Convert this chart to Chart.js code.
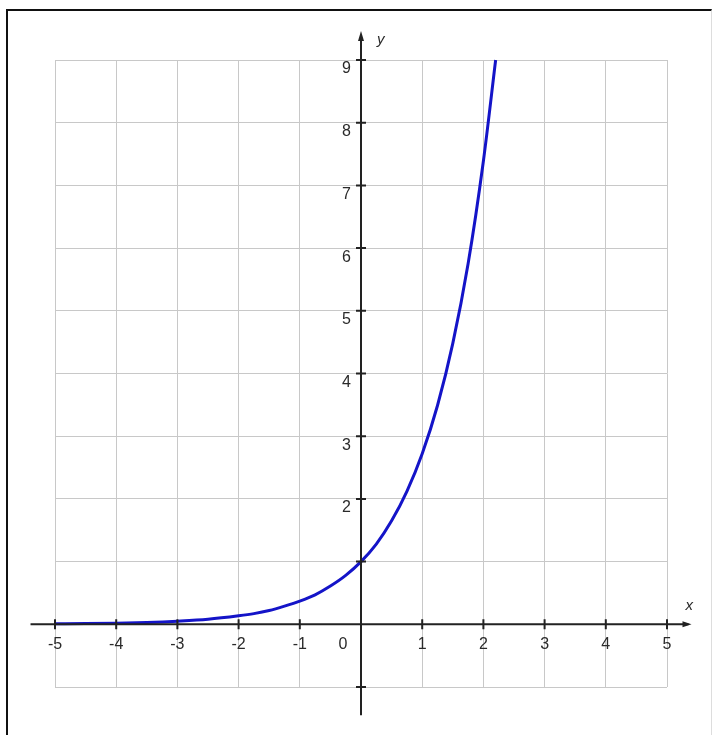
<!DOCTYPE html>
<html>
<head>
<meta charset="UTF-8">
<title>y = e^x</title>
<script src="https://cdn.jsdelivr.net/npm/chart.js@4.4.0/dist/chart.umd.min.js"></script>
<style>
  * { margin:0; padding:0; box-sizing:border-box; }
  body { background:#fff; width:712px; height:735px; overflow:hidden; }
  .frame { position:absolute; left:6px; top:9px; width:706px; height:726px; border-left:2px solid #111; border-top:2px solid #111; border-right:1px solid #ddd; }
  #wrap { position:absolute; left:0; top:0; width:712px; height:735px; }
</style>
</head>
<body>
<div class="frame"></div>
<div id="wrap"><canvas id="chart" width="712" height="735"></canvas></div>
<script>
// points
const xs = [-5, -4.5, -4, -3.5, -3, -2.5, -2, -1.75, -1.5, -1.25, -1, -0.75, -0.5, -0.25, 0, 0.25, 0.5, 0.75, 1, 1.25, 1.5, 1.75, 2, 2.2];
const ys = [0.007, 0.011, 0.018, 0.03, 0.05, 0.08, 0.135, 0.17, 0.22, 0.29, 0.37, 0.47, 0.61, 0.78, 1.0, 1.28, 1.65, 2.12, 2.72, 3.49, 4.48, 5.75, 7.39, 9.0];
const xTicks = [-5, -4, -3, -2, -1, 1, 2, 3, 4, 5];
const yTicks = [-1, 1, 2, 3, 4, 5, 6, 7, 8, 9];
const yLabels = [2, 3, 4, 5, 6, 7, 8, 9]; // "1" is hidden under the curve in the original

const font = '16px "Liberation Sans", Arial, sans-serif';

// axes with arrows, ticks and labels, drawn through the scales
const axesPlugin = {
  id: 'axes',
  afterDatasetsDraw(chart) {
    const c = chart.ctx, sx = chart.scales.x, sy = chart.scales.y;
    const x0 = sx.getPixelForValue(0), y0 = sy.getPixelForValue(0);
    c.save();
    c.strokeStyle = '#222'; c.fillStyle = '#222'; c.lineWidth = 2;
    c.beginPath();
    c.moveTo(sx.getPixelForValue(-5.4), y0); c.lineTo(sx.getPixelForValue(5.35), y0);
    c.moveTo(x0, sy.getPixelForValue(-1.45)); c.lineTo(x0, sy.getPixelForValue(9.4));
    c.stroke();
    // arrows
    const ax = sx.getPixelForValue(5.4), ay = sy.getPixelForValue(9.4);
    c.beginPath(); c.moveTo(ax, y0); c.lineTo(ax - 9, y0 - 3); c.lineTo(ax - 9, y0 + 3); c.closePath(); c.fill();
    c.beginPath(); c.moveTo(x0, ay - 4); c.lineTo(x0 - 3, ay + 6); c.lineTo(x0 + 3, ay + 6); c.closePath(); c.fill();
    // ticks
    c.lineWidth = 2;
    c.beginPath();
    xTicks.forEach(v => { const p = sx.getPixelForValue(v); c.moveTo(p, y0 - 5); c.lineTo(p, y0 + 5); });
    yTicks.forEach(v => { const p = sy.getPixelForValue(v); c.moveTo(x0 - 5, p); c.lineTo(x0 + 5, p); });
    c.stroke();
    // labels
    c.font = font; c.fillStyle = '#2a2a2a'; c.textBaseline = 'middle';
    c.textAlign = 'center';
    xTicks.forEach(v => c.fillText(String(v), sx.getPixelForValue(v), y0 + 20));
    c.fillText('0', x0 - 18, y0 + 20);
    c.textAlign = 'right';
    yLabels.forEach(v => c.fillText(String(v), x0 - 10, sy.getPixelForValue(v) + 9));
    c.font = 'italic 15px "Liberation Sans", Arial, sans-serif';
    c.textAlign = 'left';
    c.fillText('y', x0 + 16, ay + 5);
    c.fillText('x', ax - 6, y0 - 18);
    c.restore();
  }
};

new Chart(document.getElementById('chart'), {
  type: 'scatter',
  data: { datasets: [{
    data: xs.map((x, i) => ({ x: x, y: ys[i] })),
    showLine: true, borderColor: '#1414c8', borderWidth: 3, pointRadius: 0,
    cubicInterpolationMode: 'monotone', clip: false
  }] },
  options: {
    responsive: false, animation: false,
    layout: { padding: { left: 55, right: 45, top: 60, bottom: 48 } },
    plugins: { legend: { display: false }, tooltip: { enabled: false } },
    scales: {
      x: { type: 'linear', min: -5, max: 5,
        ticks: { display: false, stepSize: 1 },
        grid: { color: '#c8c8c8', lineWidth: 1, drawTicks: false },
        border: { display: false } },
      y: { type: 'linear', min: -1, max: 9,
        ticks: { display: false, stepSize: 1 },
        grid: { color: '#c8c8c8', lineWidth: 1, drawTicks: false },
        border: { display: false } }
    }
  },
  plugins: [axesPlugin]
});
</script>
</body>
</html>
